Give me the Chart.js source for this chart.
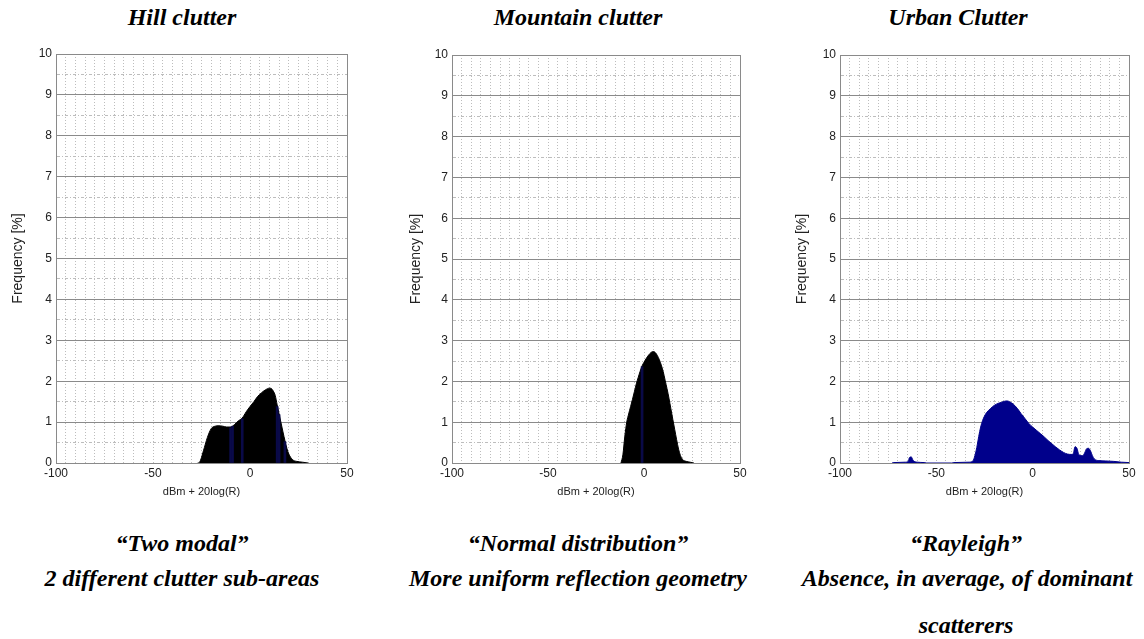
<!DOCTYPE html>
<html>
<head>
<meta charset="utf-8">
<script src="https://cdn.jsdelivr.net/npm/chart.js@4/dist/chart.umd.min.js"></script>
<style>
  body { margin: 0; background: #fff; width: 1144px; height: 639px; position: relative; overflow: hidden; }
  .box { position: absolute; top: 40px; width: 360px; height: 470px; }
  .txt { position: absolute; font-family: "Liberation Serif", "Times New Roman", serif; font-weight: bold; font-style: italic; font-size: 24px; color: #000; white-space: nowrap; transform: translate(-50%, -50%); }
</style>
</head>
<body>
<div class="txt" style="left:182px; top:17px;">Hill clutter</div>
<div class="txt" style="left:578px; top:17px;">Mountain clutter</div>
<div class="txt" style="left:958px; top:17px;">Urban Clutter</div>

<div class="box" style="left:0px;"><canvas id="chartHill"></canvas></div>
<div class="box" style="left:395px;"><canvas id="chartMountain"></canvas></div>
<div class="box" style="left:783px;"><canvas id="chartUrban"></canvas></div>

<div class="txt" style="left:182px; top:543px;">“Two modal”</div>
<div class="txt" style="left:182px; top:578px;">2 different clutter sub-areas</div>
<div class="txt" style="left:578px; top:543px;">“Normal distribution”</div>
<div class="txt" style="left:578px; top:578px;">More uniform reflection geometry</div>
<div class="txt" style="left:966px; top:543px;">“Rayleigh”</div>
<div class="txt" style="left:967px; top:578px;">Absence, in average, of dominant</div>
<div class="txt" style="left:966px; top:625px;">scatterers</div>

<script>
// Hill clutter histogram (two bumps)
var hillX = [-27, -26, -24, -22, -20, -18, -16, -14, -12, -10, -8, -6, -4, -2, 0, 2, 4, 6, 8, 10, 11, 12, 13, 14, 15, 16, 17, 18, 19, 20, 22, 24, 27, 30];
var hillY = [0, 0.02, 0.3, 0.62, 0.84, 0.9, 0.91, 0.9, 0.88, 0.88, 0.94, 1.03, 1.1, 1.25, 1.38, 1.5, 1.63, 1.72, 1.79, 1.83, 1.82, 1.76, 1.65, 1.42, 1.2, 0.98, 0.76, 0.55, 0.36, 0.22, 0.08, 0.04, 0.02, 0];
// a few histogram bins that show up dark blue inside the black area
var hillBlueX = [-10, -9, -4, 14, 15, 18];
var hillBlueY = [0.86, 0.9, 1.08, 1.38, 1.18, 0.52];

// Mountain clutter histogram
var mountainX = [-12, -11, -10, -9, -8, -7, -6, -5, -4, -3, -2, -1, 0, 1, 2, 3, 4, 5, 6, 7, 8, 9, 10, 11, 12, 13, 14, 15, 16, 17, 18, 19, 20, 22, 24, 26];
var mountainY = [0, 0.2, 0.65, 1.0, 1.2, 1.38, 1.56, 1.75, 1.94, 2.1, 2.25, 2.38, 2.47, 2.55, 2.62, 2.68, 2.72, 2.73, 2.7, 2.63, 2.53, 2.4, 2.24, 2.03, 1.82, 1.59, 1.33, 1.07, 0.82, 0.57, 0.34, 0.18, 0.09, 0.04, 0.02, 0];
var mountainBlueX = [-1];
var mountainBlueY = [2.36];

// Urban clutter histogram
var urbanX = [-73, -72, -66, -64.5, -64, -63, -62, -60, -56, -55, -42, -41, -33, -31, -30, -29, -28, -27, -26, -25, -24, -22, -20, -18, -16, -14, -13, -12, -10, -8, -6, -4, -2, 0, 2, 4, 6, 8, 10, 12, 14, 16, 18, 20, 21, 22, 23, 24, 26, 27, 28, 29, 30, 31, 32, 34, 38, 42, 46, 50];
var urbanY = [0, 0.01, 0.02, 0.05, 0.13, 0.15, 0.06, 0.02, 0.01, 0, 0, 0.01, 0.02, 0.05, 0.18, 0.38, 0.65, 0.88, 1.04, 1.15, 1.23, 1.33, 1.41, 1.46, 1.49, 1.52, 1.52, 1.5, 1.44, 1.34, 1.21, 1.09, 0.97, 0.88, 0.8, 0.72, 0.64, 0.55, 0.47, 0.39, 0.32, 0.26, 0.22, 0.21, 0.22, 0.4, 0.36, 0.2, 0.18, 0.25, 0.35, 0.36, 0.3, 0.18, 0.1, 0.06, 0.05, 0.04, 0.02, 0.01];

var xMin = -100, xMax = 50, yMin = 0, yMax = 10;
var xLabels = [-100, -50, 0, 50];

var tickFont = { family: '"Liberation Sans", Arial, sans-serif', size: 12 };
var xTitleFont = { family: '"Liberation Sans", Arial, sans-serif', size: 11 };
var yTitleFont = { family: '"Liberation Sans", Arial, sans-serif', size: 14 };

var majorColor = '#8a8a8a';
var minorColor = '#bdbdbd';
var streakColor = '#0a0a48';

function toPoints(xs, ys) {
    return xs.map(function (x, i) { return { x: x, y: ys[i] }; });
}

function isEdgeX(c) {
    return c.tick && (c.tick.value === xMin || c.tick.value === xMax);
}

function isMajorY(c) {
    return c.tick && Number.isInteger(c.tick.value);
}

function makeChart(id, xs, ys, colour, streakX, streakY, axisWidth, rightPad, topPad, titlePad) {
    var datasets = [];
    if (streakX.length) {
        datasets.push({
            type: 'bar',
            data: toPoints(streakX, streakY),
            backgroundColor: streakColor,
            barThickness: 2,
            grouped: false,
            order: 0
        });
    }
    datasets.push({
        type: 'line',
        data: toPoints(xs, ys),
        borderColor: colour,
        backgroundColor: colour,
        borderWidth: 1,
        fill: 'origin',
        pointRadius: 0,
        cubicInterpolationMode: 'monotone',
        order: 1
    });

    new Chart(document.getElementById(id), {
        type: 'line',
        data: { datasets: datasets },
        options: {
            responsive: true,
            maintainAspectRatio: false,
            animation: false,
            layout: { padding: { top: topPad, right: rightPad, bottom: 0, left: 0 } },
            plugins: { legend: { display: false }, tooltip: { enabled: false } },
            scales: {
                x: {
                    type: 'linear',
                    min: xMin,
                    max: xMax,
                    offset: false,
                    afterFit: function (scale) { scale.height = 47; },
                    ticks: {
                        stepSize: 5,
                        autoSkip: false,
                        maxRotation: 0,
                        padding: 3,
                        color: '#222',
                        font: tickFont,
                        callback: function (v) { return xLabels.indexOf(v) >= 0 ? String(v) : ''; }
                    },
                    grid: {
                        drawTicks: false,
                        offset: false,
                        color: function (c) { return isEdgeX(c) ? majorColor : minorColor; }
                    },
                    border: {
                        color: majorColor,
                        dash: function (c) { return isEdgeX(c) || !c.tick ? [] : [1, 2]; }
                    },
                    title: {
                        display: true,
                        text: 'dBm + 20log(R)',
                        color: '#222',
                        font: xTitleFont,
                        padding: { top: 0, bottom: 11 }
                    }
                },
                y: {
                    min: yMin,
                    max: yMax,
                    afterFit: function (scale) { scale.width = axisWidth; },
                    ticks: {
                        stepSize: 0.5,
                        autoSkip: false,
                        padding: 4,
                        color: '#222',
                        font: tickFont,
                        callback: function (v) { return Number.isInteger(v) ? String(v) : ''; }
                    },
                    grid: {
                        drawTicks: false,
                        color: function (c) { return isMajorY(c) ? majorColor : minorColor; }
                    },
                    border: {
                        color: majorColor,
                        dash: function (c) { return isMajorY(c) || !c.tick ? [] : [3, 2, 1, 2]; }
                    },
                    title: {
                        display: true,
                        text: 'Frequency [%]',
                        color: '#222',
                        font: yTitleFont,
                        padding: { top: titlePad, bottom: 0 }
                    }
                }
            }
        }
    });
}

makeChart('chartHill', hillX, hillY, '#000000', hillBlueX, hillBlueY, 56, 13, 14, 10);
makeChart('chartMountain', mountainX, mountainY, '#000000', mountainBlueX, mountainBlueY, 57, 15, 15, 13);
makeChart('chartUrban', urbanX, urbanY, '#00008b', [], [], 57, 14, 15, 11);
</script>
</body>
</html>
